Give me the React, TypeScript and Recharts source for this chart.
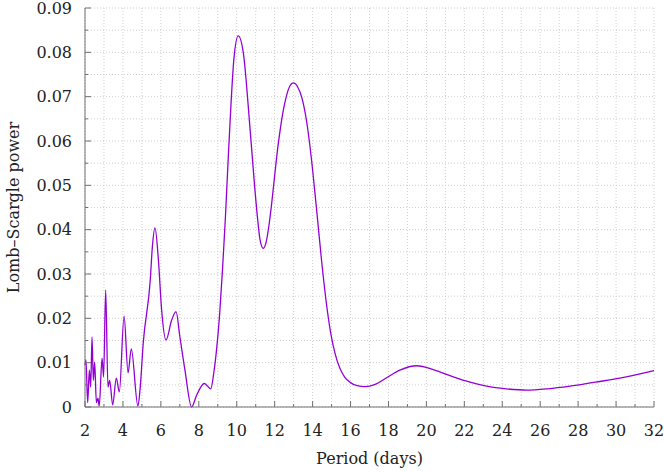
import { LineChart, Line, XAxis, YAxis, CartesianGrid } from 'recharts';

const periods = [
  2.0, 2.05, 2.14, 2.23, 2.3, 2.37, 2.44, 2.51, 2.6, 2.68, 2.75, 2.9, 2.98, 3.09, 3.21, 3.3,
  3.46, 3.65, 3.81, 4.06, 4.27, 4.44, 4.79, 4.9, 5.07, 5.44, 5.55, 5.69, 5.87, 6.04, 6.27,
  6.57, 6.8, 7.0, 7.27, 7.62, 7.89, 8.29, 8.63, 8.8, 8.95, 9.1, 9.25, 9.4, 9.55, 9.7, 9.85,
  10.08, 10.35, 10.5, 10.65, 10.8, 10.93, 11.09, 11.23, 11.4, 11.55, 11.7, 11.85, 12.0,
  12.15, 12.3, 12.45, 12.6, 12.8, 12.98, 13.2, 13.45, 13.7, 13.95, 14.2, 14.45, 14.7, 14.95,
  15.2, 15.45, 15.7, 16.0, 16.35, 16.76, 17.3, 17.9, 18.6, 19.49, 20.4, 21.42, 22.3, 23.18,
  24.2, 25.28, 26.4, 27.57, 28.9, 30.2, 32,
];

const power = [
  0.0095, 0.0106, 0.001, 0.0083, 0.0045, 0.0158, 0.006, 0.0101, 0.001, 0.002, 0.0002, 0.011,
  0.0068, 0.0264, 0.0045, 0.006, 0.0005, 0.0065, 0.0034, 0.0205, 0.0077, 0.0131, 0.0002,
  0.0038, 0.0144, 0.0286, 0.036, 0.0404, 0.0332, 0.0219, 0.0151, 0.0196, 0.0215, 0.0159,
  0.0083, 0.0, 0.0027, 0.0053, 0.0041, 0.008, 0.0135, 0.021, 0.031, 0.0425, 0.056, 0.0685,
  0.0785, 0.0837, 0.0798, 0.0735, 0.0655, 0.0575, 0.0505, 0.0429, 0.0377, 0.0358, 0.0372,
  0.041, 0.0462, 0.0522, 0.058, 0.0628, 0.0668, 0.0698, 0.0724, 0.0731, 0.0723, 0.0695,
  0.064, 0.0555, 0.045, 0.034, 0.0243, 0.0168, 0.0118, 0.0086, 0.0067, 0.0055, 0.0048,
  0.0046, 0.0051, 0.0066, 0.0083, 0.0093, 0.0084, 0.0068, 0.0056, 0.0047, 0.0041, 0.0038,
  0.0041, 0.0047, 0.0056, 0.0065, 0.0082,
];

const xTicks = [
  2, 3, 4, 5, 6, 7, 8, 9, 10, 11, 12, 13, 14, 15, 16, 17, 18, 19, 20, 21, 22, 23, 24, 25, 26,
  27, 28, 29, 30, 31, 32,
];

const yTicks = [
  0, 0.005, 0.01, 0.015, 0.02, 0.025, 0.03, 0.035, 0.04, 0.045, 0.05, 0.055, 0.06, 0.065,
  0.07, 0.075, 0.08, 0.085, 0.09,
];

const data = periods.map((p, i) => ({ period: p, power: power[i] }));

const font = '"DejaVu Serif", serif';
const axisColor = '#707070';
const textColor = '#222';

const isMajorX = (v: number) => v % 2 === 0;
const isMajorY = (v: number) => Math.round(v * 1000) % 10 === 0;

const BottomTick = (props: any) => {
  const { x, y, payload } = props;
  const major = isMajorX(payload.value);
  return (
    <g>
      <line x1={x} x2={x} y1={y} y2={y - (major ? 6 : 3)} stroke={axisColor} />
      {major && (
        <text x={x} y={y + 29} textAnchor="middle" fontFamily={font} fontSize={16} fill={textColor}>
          {payload.value}
        </text>
      )}
    </g>
  );
};

const TopTick = (props: any) => {
  const { x, y, payload } = props;
  const major = isMajorX(payload.value);
  return <line x1={x} x2={x} y1={y} y2={y + (major ? 6 : 3)} stroke={axisColor} />;
};

const LeftTick = (props: any) => {
  const { x, y, payload } = props;
  const v = payload.value;
  const major = isMajorY(v);
  return (
    <g>
      <line x1={x} x2={x + (major ? 6 : 3)} y1={y} y2={y} stroke={axisColor} />
      {major && (
        <text x={x - 13} y={y} dy="0.36em" textAnchor="end" fontFamily={font} fontSize={16} fill={textColor}>
          {v === 0 ? '0' : v.toFixed(2)}
        </text>
      )}
    </g>
  );
};

const RightTick = (props: any) => {
  const { x, y, payload } = props;
  const major = isMajorY(payload.value);
  return <line x1={x} x2={x - (major ? 6 : 3)} y1={y} y2={y} stroke={axisColor} />;
};

export default function App() {
  return (
    <div style={{ position: 'absolute', left: 0, top: 0, width: 664, height: 472, background: '#fff' }}>
      <LineChart width={664} height={472} data={data} margin={{ top: 8, right: 10, left: 0, bottom: 0 }}>
        <CartesianGrid stroke="#cfcfcf" strokeDasharray="1 2" />
        <XAxis
          dataKey="period"
          type="number"
          domain={[2, 32]}
          ticks={xTicks}
          interval={0}
          height={65}
          tickSize={0}
          tickMargin={0}
          stroke={axisColor}
          tick={<BottomTick />}
          label={{
            content: ({ viewBox }: any) => (
              <text
                x={viewBox.x + viewBox.width / 2}
                y={viewBox.y + 57}
                textAnchor="middle"
                fontFamily={font}
                fontSize={16}
                fill={textColor}
              >
                Period (days)
              </text>
            ),
          }}
        />
        <XAxis
          xAxisId="top"
          orientation="top"
          dataKey="period"
          type="number"
          domain={[2, 32]}
          ticks={xTicks}
          interval={0}
          height={0}
          tickSize={0}
          tickMargin={0}
          stroke={axisColor}
          tick={<TopTick />}
        />
        <YAxis
          type="number"
          domain={[0, 0.09]}
          ticks={yTicks}
          interval={0}
          width={85}
          tickSize={0}
          tickMargin={0}
          stroke={axisColor}
          tick={<LeftTick />}
          label={{
            content: ({ viewBox }: any) => {
              const cx = viewBox.x + 13;
              const cy = viewBox.y + viewBox.height / 2;
              return (
                <text
                  x={cx}
                  y={cy}
                  dy="0.36em"
                  transform={`rotate(-90, ${cx}, ${cy})`}
                  textAnchor="middle"
                  fontFamily={font}
                  fontSize={16}
                  fill={textColor}
                >
                  Lomb–Scargle power
                </text>
              );
            },
          }}
        />
        <YAxis
          yAxisId="right"
          orientation="right"
          type="number"
          domain={[0, 0.09]}
          ticks={yTicks}
          interval={0}
          width={0}
          tickSize={0}
          tickMargin={0}
          stroke={axisColor}
          tick={<RightTick />}
        />
        <Line
          type="monotone"
          dataKey="power"
          stroke="#9400d3"
          strokeWidth={1.3}
          dot={false}
          isAnimationActive={false}
        />
      </LineChart>
    </div>
  );
}
